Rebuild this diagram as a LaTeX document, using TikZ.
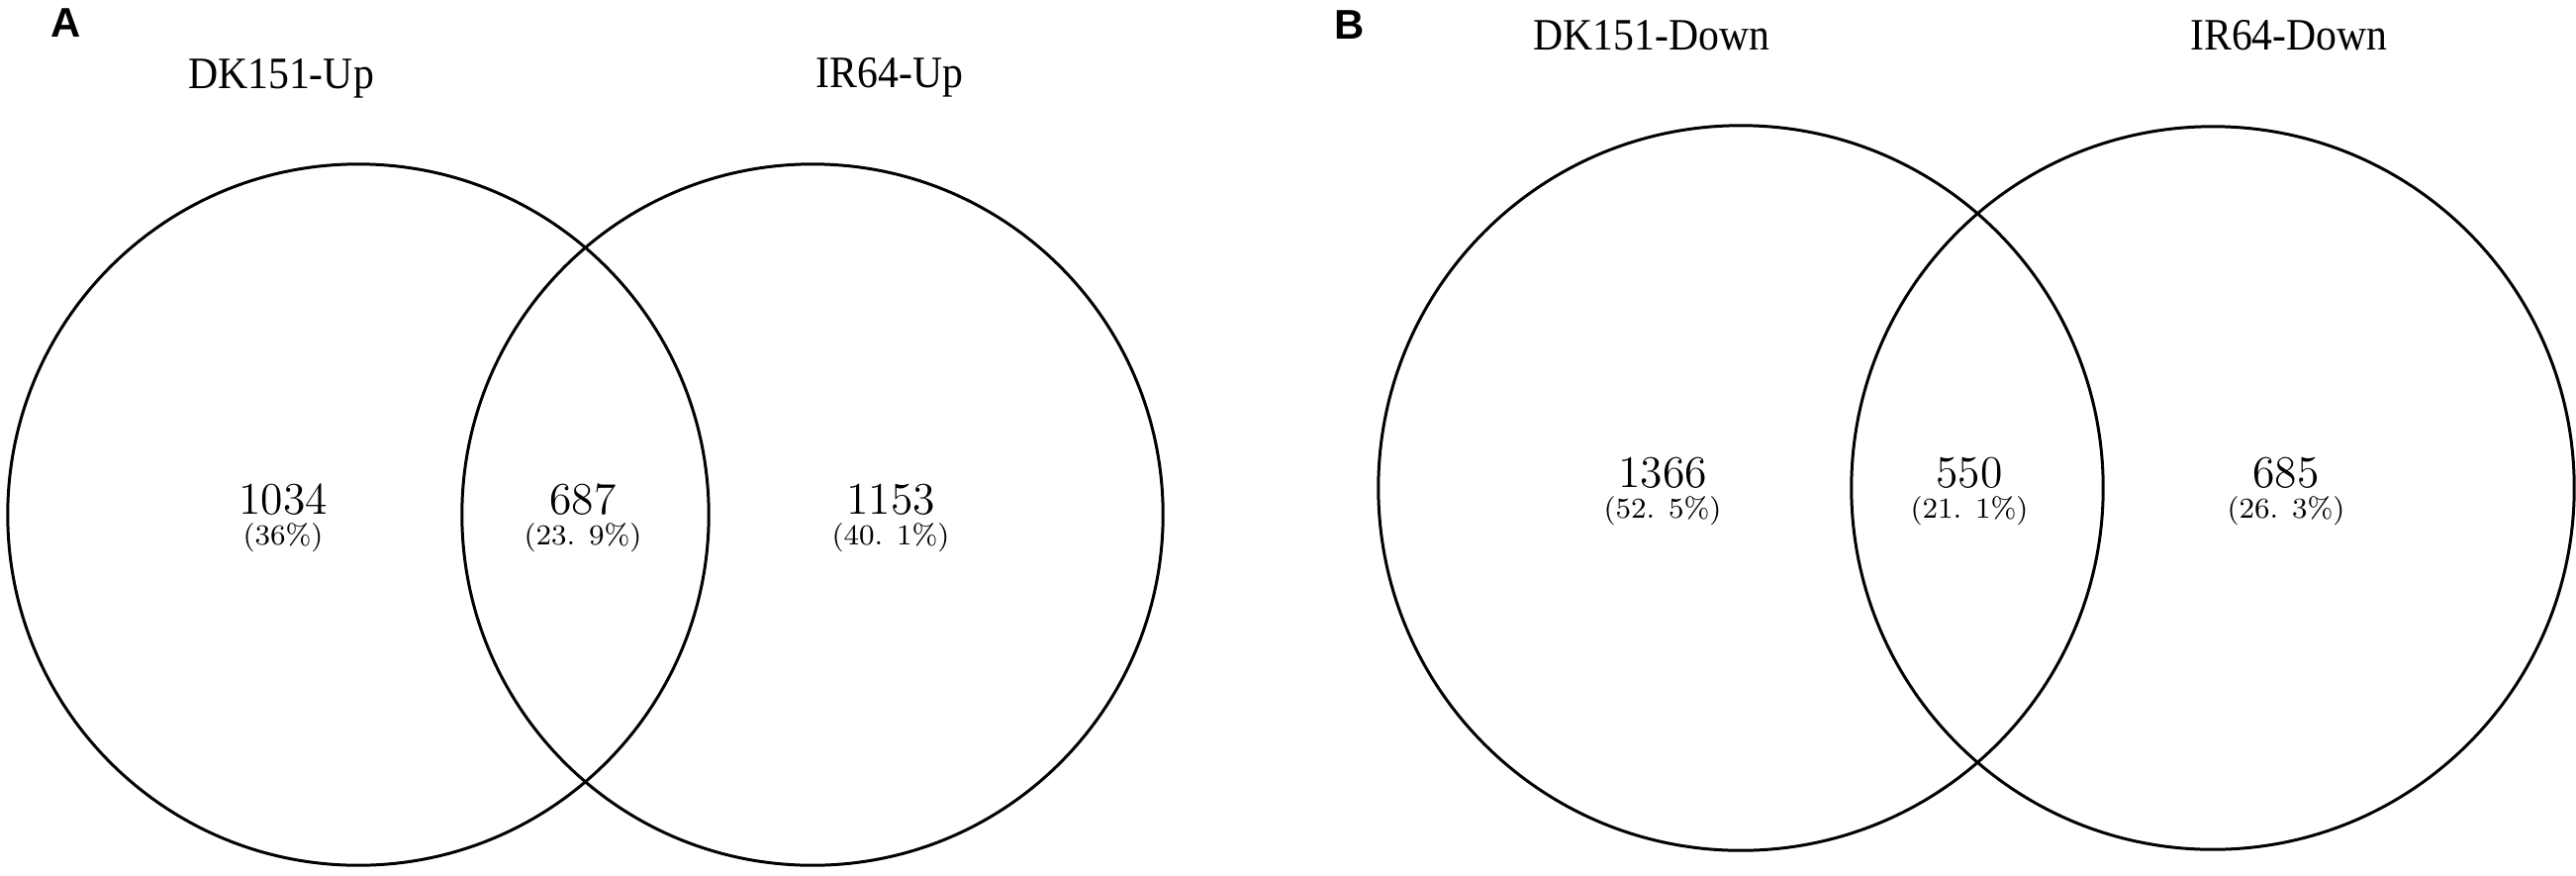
\documentclass[tikz,border=0pt]{standalone}
\usepackage{fontspec}
\newfontfamily\vennfont[FakeStretch=0.92]{Liberation Serif}
\newfontfamily\panelfont{Liberation Sans}
\begin{document}
\begin{tikzpicture}[x=0.01cm,y=-0.01cm,
  venn/.style={draw,circle,line width=0.85pt,inner sep=0pt},
  cnt/.style={anchor=base,inner sep=0pt,font=\fontsize{13}{15}\selectfont},
  pct/.style={anchor=base,inner sep=0pt,font=\fontsize{8.3}{10}\selectfont},
  settitle/.style={anchor=base,inner sep=0pt,font=\vennfont\fontsize{12.9}{15}\selectfont},
  panel/.style={inner sep=0pt,font=\panelfont\bfseries\fontsize{11.9}{14}\selectfont}]
  \useasboundingbox (0,0) rectangle (2603,884);

  % the four sets
  \foreach \n/\x/\y/\d in {A-1/362/520/7.08cm, A-2/821/520/7.08cm, B-1/1759/493/7.32cm, B-2/2236/493/7.30cm}{%
    \node[venn,minimum size=\d] (\n) at (\x,\y) {};
  }

  \node[panel] (L-A) at (67,23) {A};
  \node[panel] (L-B) at (1364,25) {B};

  \node[settitle] (T-A1) at (284,89) {DK151-Up};
  \node[settitle] (T-A2) at (899,88) {IR64-Up};
  \node[settitle] (T-B1) at (1669,50) {DK151-Down};
  \node[settitle] (T-B2) at (2313,50) {IR64-Down};

  % counts and shares
  \foreach \n/\x/\y/\c/\p in {A1/286/519/1034/(36\%), A2/589/519/687/(23. 9\%), A3/900/519/1153/(40. 1\%),
                              B1/1680/492/1366/(52. 5\%), B2/1990/492/550/(21. 1\%), B3/2310/492/685/(26. 3\%)}{%
    \node[cnt] (C-\n) at (\x,\y) {\c};
    \node[pct] (P-\n) at (\x,\y+31) {\p};
  }
\end{tikzpicture}
\end{document}
